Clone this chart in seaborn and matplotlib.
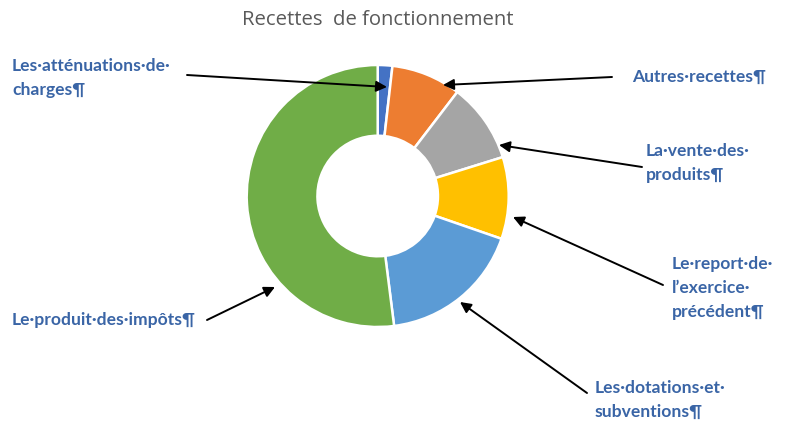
import matplotlib
matplotlib.use("Agg")
import matplotlib.pyplot as plt
import seaborn as sns

# data (share of total, %)
labels = [
    "Les·atténuations·de·\ncharges¶",
    "Autres·recettes¶",
    "La·vente·des·\nproduits¶",
    "Le·report·de·\nl’exercice·\nprécédent¶",
    "Les·dotations·et·\nsubventions¶",
    "Le·produit·des·impôts¶",
]
values = [1.8, 8.6, 9.8, 10.1, 17.7, 52.0]
colors = ["#4472C4", "#ED7D31", "#A5A5A5", "#FFC000", "#5B9BD5", "#70AD47"]
title = "Recettes  de fonctionnement"

# label layout in pixels (x, y of text, x, y of arrow tip)
text_pos = [(12, 78), (632, 77), (646, 163), (672, 288), (595, 400), (12, 320)]
tip_pos = [(387, 87), (443, 85), (499, 145), (513, 217), (460, 302), (275, 287)]
tail_pos = [(187, 75), (612, 77), (642, 167), (663, 285), (587, 393), (207, 320)]

sns.set_theme(style="white")
plt.rcParams["font.family"] = ["Lato", "DejaVu Sans"]

W, H = 787, 423
fig = plt.figure(figsize=(W / 100, H / 100), dpi=100)
ax = fig.add_axes([0, 0, 1, 1])
ax.set_xlim(0, W)
ax.set_ylim(0, H)
ax.set_aspect("equal")
ax.axis("off")

cx, cy, r = 377.7, H - 196, 131
ax.pie(values, colors=colors, startangle=90, counterclock=False,
       center=(cx, cy), radius=r, frame=True,
       wedgeprops=dict(width=r * 0.54, edgecolor="white", linewidth=1.8))
ax.set_xlim(0, W)
ax.set_ylim(0, H)
ax.axis("off")

for lab, (tx, ty), (px, py), (qx, qy) in zip(labels, text_pos, tip_pos, tail_pos):
    ax.text(tx, H - ty, lab, color="#3A65A6", fontsize=12.6, fontweight="bold",
            ha="left", va="center", linespacing=1.65)
    ax.annotate("", xy=(px, H - py), xytext=(qx, H - qy),
                arrowprops=dict(arrowstyle="-|>", color="black", lw=1.4,
                                mutation_scale=16, shrinkA=0, shrinkB=0))

ax.text(378, H - 20, title, color="#595959", fontsize=14.6,
        ha="center", va="center", family=["Open Sans", "DejaVu Sans"])

fig.savefig("out.png", dpi=100)
